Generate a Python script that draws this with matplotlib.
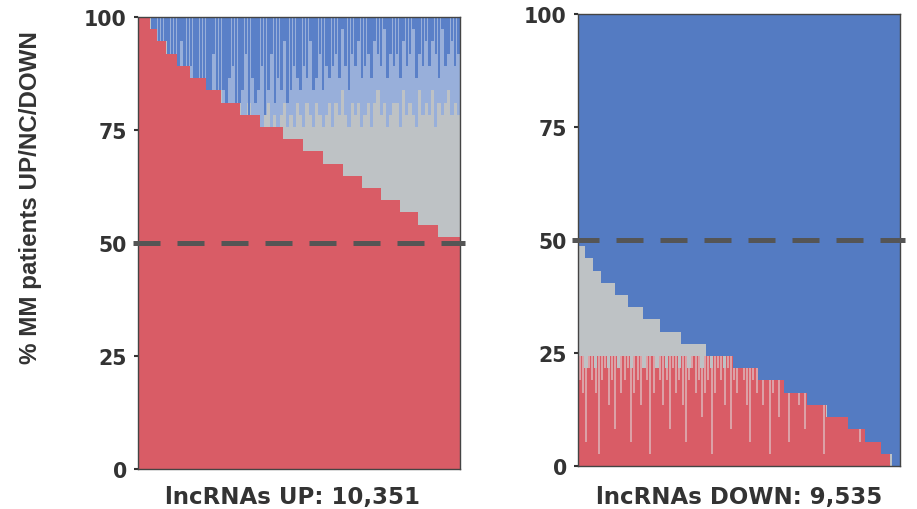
import numpy as np
import matplotlib
matplotlib.use('Agg')
import matplotlib.pyplot as plt
from matplotlib.transforms import blended_transform_factory

# ---------------- data ----------------
n_patients = 37
up_total = 10351
down_total = 9535

# left panel: number of patients UP for each block of lncRNAs (sorted)
up_levels = [37, 36, 35, 34, 33, 32, 31, 30, 29, 28, 27, 26, 25, 24, 23, 22, 21, 20, 19]
up_widths = [373, 269, 269, 373, 383, 538, 476, 590, 694, 704, 642, 642, 642, 590, 642, 590, 590, 642, 702]

# left panel: patients DOWN (from top) per column of lncRNAs (light reach / dense core)
up_down_light = [9, 9, 9, 9, 9, 9, 9, 9, 9, 9,
                 9, 9, 9, 9, 9, 9, 9, 9, 9, 9,
                 9, 8, 9, 9, 8, 9, 9, 9, 8, 9,
                 9, 8, 9, 9, 7, 9, 8, 9, 9, 8,
                 7, 9, 8, 9, 8, 7, 9, 8, 9, 7,
                 8, 9, 7, 8, 9, 7, 8, 9, 8, 7,
                 9, 7, 8, 6, 8, 9, 7, 8, 7, 9,
                 8, 7, 9, 7, 6, 8, 7, 9, 8, 7,
                 7, 9, 6, 8, 7, 8, 9, 6, 8, 7,
                 8, 6, 9, 7, 8, 7, 6, 8, 7, 8]
up_down_core = [9, 9, 9, 9, 9, 9, 9, 9, 9, 9,
                9, 9, 9, 2, 9, 9, 4, 9, 9, 5,
                9, 6, 8, 3, 7, 9, 6, 8, 5, 4,
                7, 8, 6, 3, 8, 5, 7, 6, 4, 8,
                6, 3, 7, 5, 6, 2, 7, 6, 4, 5,
                6, 4, 5, 2, 6, 5, 3, 6, 4, 5,
                4, 3, 5, 1, 4, 6, 3, 4, 2, 5,
                4, 3, 5, 2, 3, 4, 1, 5, 3, 4,
                3, 5, 2, 4, 3, 1, 5, 3, 4, 2,
                4, 2, 3, 5, 1, 4, 3, 2, 4, 3]

# right panel: number of patients not DOWN (gray+red) per block
down_levels = [18, 17, 16, 15, 14, 13, 12, 11, 10, 9, 8, 7, 6, 5, 4, 3, 2, 1, 0]
down_widths = [198, 247, 247, 395, 395, 445, 494, 642, 741, 741, 790, 741, 692, 593, 642, 494, 445, 346, 247]

# right panel: patients UP per column (full reach / dense core)
down_up_light = [9, 9, 8, 9, 9, 8, 9, 9, 9, 8,
                 9, 9, 8, 9, 9, 9, 8, 9, 9, 9,
                 8, 9, 9, 9, 8, 9, 9, 8, 9, 9,
                 9, 8, 9, 9, 8, 9, 9, 9, 8, 9,
                 9, 8, 9, 9, 9, 8, 9, 9, 8, 9,
                 9, 9, 8, 9, 9, 8, 9, 9, 9, 8,
                 9, 8, 9, 9, 8, 9, 9, 8, 9, 9,
                 8, 9, 9, 8, 9, 9, 8, 9, 9, 8,
                 9, 9, 8, 9, 9, 8, 9, 9, 8, 9,
                 9, 8, 9, 9, 8, 9, 9, 8, 9, 9]
down_up_core = [7, 6, 2, 8, 7, 6, 1, 7, 8, 5,
                7, 3, 8, 6, 7, 8, 2, 6, 7, 5,
                8, 7, 1, 6, 8, 7, 5, 7, 3, 8,
                6, 7, 5, 2, 7, 8, 6, 7, 4, 6,
                7, 1, 6, 8, 7, 5, 8, 3, 7, 6,
                8, 7, 5, 2, 7, 6, 8, 5, 7, 1,
                6, 8, 4, 7, 6, 2, 7, 8, 5, 7,
                3, 6, 8, 5, 7, 6, 1, 8, 7, 5,
                6, 8, 4, 7, 5, 8, 6, 2, 7, 6,
                5, 8, 6, 3, 7, 8, 5, 6, 2, 7]

yticks = [0, 25, 50, 75, 100]
xlabels = ['lncRNAs UP: 10,351', 'lncRNAs DOWN: 9,535']
ylabel = '% MM patients UP/NC/DOWN'

# ---------------- style ----------------
RED = '#D95C66'
GRAY = '#BEC2C5'
BLUE = '#547BC2'
BLUE_DARK = '#5A80C8'
BLUE_LIGHT = '#98AFDA'
RED_LIGHT = '#DDB0B4'
TXT = '#333333'
plt.rcParams['font.family'] = ['DejaVu Sans']

fig = plt.figure(figsize=(9.17, 5.10), dpi=100)
axL = fig.add_axes([138/917, 40/510, 322/917, 452/510])
axR = fig.add_axes([578/917, 43/510, 322/917, 452/510])

pct = 100.0 / n_patients


def level_at(x, edges, levels):
    idx = np.clip(np.searchsorted(edges, x, side='right') - 1, 0, len(levels) - 1)
    return np.asarray(levels)[idx]


# ---- left panel ----
lw = np.array(up_widths, float)
lev = np.array(up_levels, float)
ledges = np.concatenate([[0], np.cumsum(lw)])
axL.bar(ledges[:-1], lev * pct, width=lw, align='edge', color=RED, linewidth=0)
axL.bar(ledges[:-1], 100 - lev * pct, bottom=lev * pct, width=lw, align='edge', color=GRAY, linewidth=0)

ncol = len(up_down_light)
cw = up_total / ncol
cx = np.arange(ncol) * cw
room = n_patients - level_at(cx + cw / 2, ledges, up_levels)
dl = np.minimum(np.array(up_down_light), room) * pct
dc = np.minimum(np.array(up_down_core), room) * pct
axL.bar(cx, dl, bottom=100 - dl, width=cw, align='edge', color=BLUE_LIGHT, linewidth=0)
axL.bar(cx + cw * 0.1, dc, bottom=100 - dc, width=cw * 0.8, align='edge', color=BLUE_DARK, linewidth=0)
axL.set_xlim(0, up_total)

# ---- right panel ----
rw = np.array(down_widths, float)
rlev = np.array(down_levels, float)
redges = np.concatenate([[0], np.cumsum(rw)])
axR.bar(redges[:-1], 100 - rlev * pct, bottom=rlev * pct, width=rw, align='edge', color=BLUE, linewidth=0)
axR.bar(redges[:-1], rlev * pct, width=rw, align='edge', color=GRAY, linewidth=0)

ncol = len(down_up_light)
cw = down_total / ncol
cx = np.arange(ncol) * cw
room = level_at(cx + cw / 2, redges, down_levels)
ul = np.minimum(np.array(down_up_light), room) * pct
uc = np.minimum(np.array(down_up_core), room) * pct
axR.bar(cx, ul, width=cw, align='edge', color=RED, linewidth=0)
axR.vlines(cx + cw / 2, uc, ul, color=RED_LIGHT, linewidth=1.2)
axR.set_xlim(0, down_total)

for ax, lab, x0, x1, lx, ly in [(axL, xlabels[0], -0.016, 1.016, 0.481, -0.036),
                                (axR, xlabels[1], -0.019, 1.016, 0.5, -0.041)]:
    ax.set_ylim(0, 100)
    ax.set_yticks(yticks)
    ax.set_yticklabels([str(t) for t in yticks], fontsize=14.8, fontweight='bold', color=TXT)
    ax.set_xticks([])
    ax.tick_params(axis='y', length=3, width=1.5, color='#333333', pad=5)
    for s in ax.spines.values():
        s.set_color('#444444')
        s.set_linewidth(1.0)
    ax.set_xlabel(lab, fontsize=16.5, fontweight='bold', color=TXT)
    ax.xaxis.set_label_coords(lx, ly, transform=ax.transAxes)
    ax.xaxis.label.set_va('top')
    tr = blended_transform_factory(ax.transAxes, ax.transData)
    ax.plot([x0, x1], [50, 50], transform=tr, color='#555555', lw=3.6,
            dashes=(5.4, 3.4), clip_on=False, zorder=10, solid_capstyle='butt', dash_capstyle='butt')

fig.text(31/917, 1 - 198/510, ylabel, rotation=90, ha='center', va='center',
         fontsize=17.4, fontweight='bold', color=TXT,
         family=['Liberation Sans', 'DejaVu Sans'])

fig.savefig('out.png', dpi=100)
